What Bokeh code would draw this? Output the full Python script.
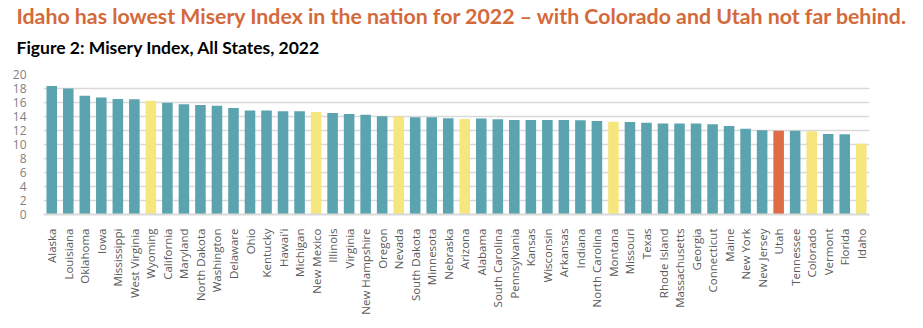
from bokeh.plotting import figure
from bokeh.models import Title, ColumnDataSource
from bokeh.embed import file_html
from bokeh.resources import INLINE

states = ["Alaska", "Louisiana", "Oklahoma", "Iowa", "Mississippi", "West Virginia", "Wyoming",
          "California", "Maryland", "North Dakota", "Washington", "Delaware", "Ohio", "Kentucky",
          "Hawai'i", "Michigan", "New Mexico", "Illinois", "Virginia", "New Hampshire", "Oregon",
          "Nevada", "South Dakota", "Minnesota", "Nebraska", "Arizona", "Alabama", "South Carolina",
          "Pennsylvania", "Kansas", "Wisconsin", "Arkansas", "Indiana", "North Carolina", "Montana",
          "Missouri", "Texas", "Rhode Island", "Massachusetts", "Georgia", "Connecticut", "Maine",
          "New York", "New Jersey", "Utah", "Tennessee", "Colorado", "Vermont", "Florida", "Idaho"]

misery = [18.35, 18.0, 16.95, 16.7, 16.5, 16.45, 16.25,
          15.95, 15.75, 15.65, 15.55, 15.2, 14.85, 14.85,
          14.75, 14.75, 14.65, 14.5, 14.35, 14.25, 14.05,
          14.0, 13.9, 13.9, 13.75, 13.65, 13.7, 13.6,
          13.5, 13.5, 13.5, 13.5, 13.45, 13.35, 13.25,
          13.2, 13.1, 13.0, 13.0, 13.0, 12.9, 12.65,
          12.25, 12.05, 11.95, 11.95, 11.9, 11.5, 11.45, 10.1]

yellow_states = ["Wyoming", "New Mexico", "Nevada", "Arizona", "Montana", "Colorado", "Idaho"]
orange_states = ["Utah"]

y_ticks = [0, 2, 4, 6, 8, 10, 12, 14, 16, 18, 20]

TEAL = "#5BA4AF"
YELLOW = "#F5E67E"
ORANGE = "#E06C47"

colors = [ORANGE if s in orange_states else (YELLOW if s in yellow_states else TEAL) for s in states]
src = ColumnDataSource(dict(state=states, value=misery, color=colors))

p = figure(x_range=states, y_range=(0, 20), width=923, height=328,
           output_backend="svg", toolbar_location=None,
           min_border_left=43, min_border_right=54, min_border_bottom=114, min_border_top=74)
p.title.visible = False

p.vbar(x="state", top="value", width=0.64, source=src, fill_color="color", line_color=None)

p.outline_line_color = None
p.background_fill_color = "white"
p.border_fill_color = "white"

p.xgrid.grid_line_color = None
p.ygrid.grid_line_color = "#D9D9D9"
p.ygrid.grid_line_width = 1.3
p.yaxis.ticker = y_ticks
p.yaxis.axis_line_color = None
p.yaxis.major_tick_line_color = None
p.yaxis.minor_tick_line_color = None
p.yaxis.major_label_text_font = "Open Sans"
p.yaxis.major_label_text_font_size = "12px"
p.yaxis.major_label_text_color = "#7F7F7F"
p.yaxis.major_label_standoff = 11

p.xaxis.axis_line_color = "#D9D9D9"
p.xaxis.axis_line_width = 2
p.xaxis.major_tick_line_color = None
p.xaxis.major_label_orientation = 1.5708
p.xaxis.major_label_text_font = "Open Sans"
p.xaxis.major_label_text_font_size = "11.5px"
p.xaxis.major_label_text_color = "#595959"
p.xaxis.major_label_standoff = 8

sub = Title(text="Figure 2: Misery Index, All States, 2022", align="left", offset=-27,
            text_font="Lato", text_font_style="bold", text_font_size="17.5px",
            text_color="#000000", standoff=33)
p.add_layout(sub, "above")
main = Title(text="Idaho has lowest Misery Index in the nation for 2022 \u2013 with Colorado and Utah not far behind.",
             align="left", offset=-27, text_font="Lato", text_font_style="bold",
             text_font_size="21.3px", text_color="#D4693A", standoff=-21)
p.add_layout(main, "above")

open("out.html", "w").write(file_html(p, INLINE))
